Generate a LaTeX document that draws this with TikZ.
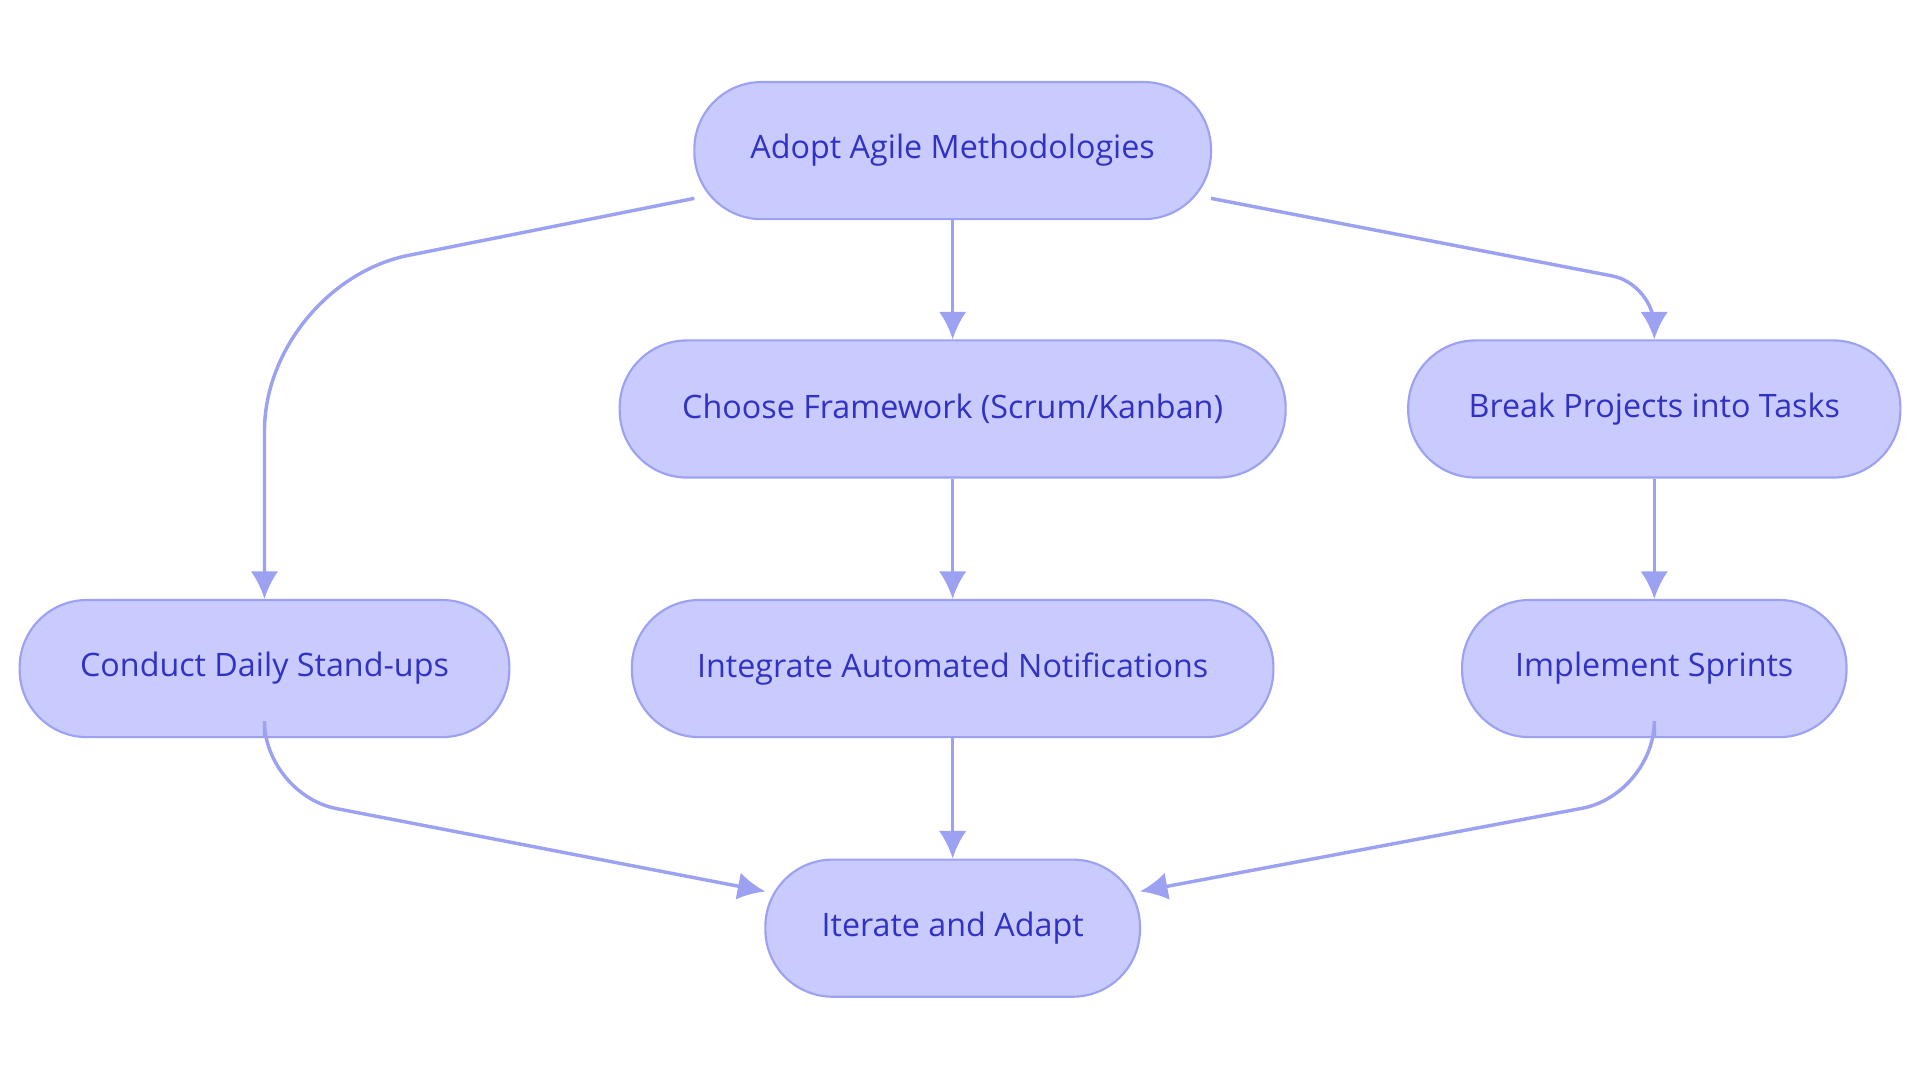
\documentclass[tikz,border=0pt]{standalone}
\usepackage{fontspec}
\setmainfont{Open Sans}
\usetikzlibrary{arrows.meta, positioning}
\definecolor{boxfill}{HTML}{C9CBFE}
\definecolor{boxline}{HTML}{9DA1F1}
\definecolor{boxtext}{HTML}{3131C4}
\begin{document}
\begin{tikzpicture}[
        x=0.02cm, y=-0.02cm,
        phase/.style = {rectangle, rounded corners=1.1cm, minimum height=2.24cm, align=center, fill=boxfill, draw=boxline, line width=1pt, text=boxtext, font=\fontsize{15}{18}\selectfont},
        line/.style = {-{Latex[length=0.45cm, width=0.45cm]}, line width=1.6pt, boxline},
    ]
        \useasboundingbox (0,0) rectangle (1568,884);
        \node[phase, minimum width=8.44cm] (adopt) at (778,123) {Adopt Agile Methodologies};
        \node[phase, minimum width=10.88cm] (choose) at (778,334) {Choose Framework (Scrum/Kanban)};
        \node[phase, minimum width=8.04cm] (break) at (1351,334) {Break Projects into Tasks};
        \node[phase, minimum width=8cm] (standup) at (216,546) {Conduct Daily Stand-ups};
        \node[phase, minimum width=10.48cm] (notify) at (778,546) {Integrate Automated Notifications};
        \node[phase, minimum width=6.28cm] (sprints) at (1351,546) {Implement Sprints};
        \node[phase, minimum width=6.12cm] (iterate) at (778,758) {Iterate and Adapt};
        % bend points
        \coordinate (L0) at (567,162);
        \coordinate (R0) at (989,162);
        \coordinate (L1) at (625,728);
        \coordinate (R1) at (931,728);

        \draw [line, rounded corners=2.4cm] (L0) -- (216,232) -- (standup.north);
        \draw [line] (adopt) -- (choose);
        \draw [line, rounded corners=0.7cm] (R0) -- (1351,232) -- (break.north);
        \draw [line] (choose) -- (notify);
        \draw [line] (break) -- (sprints);
        \draw [line, rounded corners=1.2cm] (standup.south) -- (216,649) -- (L1);
        \draw [line] (notify) -- (iterate);
        \draw [line, rounded corners=1.2cm] (sprints.south) -- (1351,649) -- (R1);
    \end{tikzpicture}
\end{document}
